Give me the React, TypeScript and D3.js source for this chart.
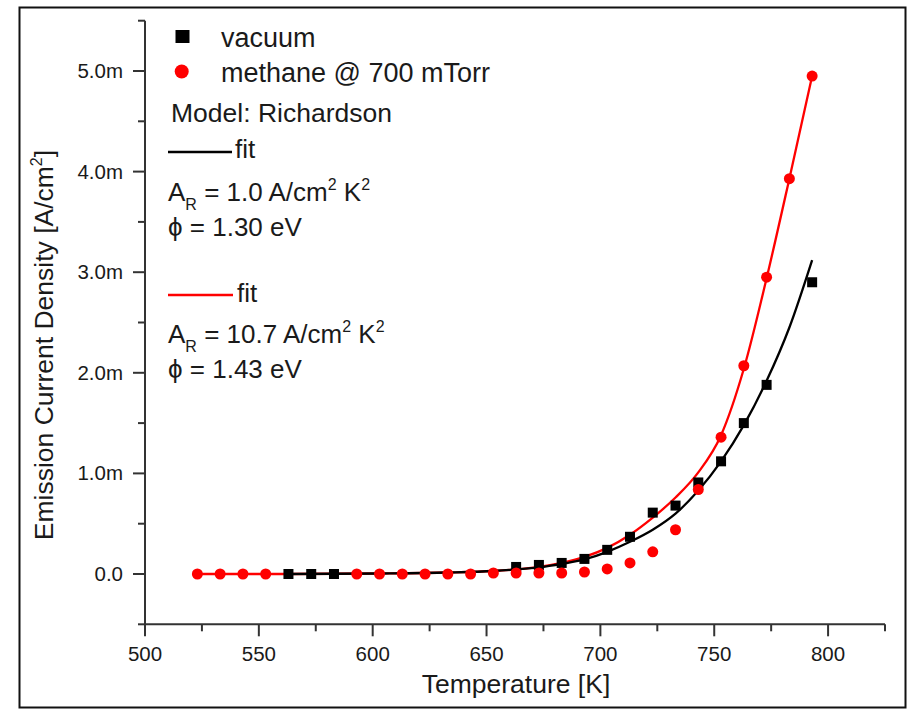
import React from "react";
import * as d3 from "d3";

// Temperatures [K]
const vacuumTemps = [563, 573, 583, 663, 673, 683, 693, 703, 713, 723, 733, 743, 753, 763, 773, 793];
// Emission current density [mA/cm^2]
const vacuumValues = [0, 0, 0, 0.07, 0.09, 0.11, 0.15, 0.24, 0.37, 0.61, 0.68, 0.91, 1.12, 1.5, 1.88, 2.9];

const methaneTemps = [523, 533, 543, 553, 593, 603, 613, 623, 633, 643, 653, 663, 673, 683, 693, 703, 713, 723, 733, 743, 753, 763, 773, 783, 793];
const methaneValues = [0, 0, 0, 0, 0, 0, 0, 0, 0, 0, 0.01, 0.01, 0.01, 0.01, 0.02, 0.05, 0.11, 0.22, 0.44, 0.84, 1.36, 2.07, 2.95, 3.93, 4.95];

// Fit curves
const vacuumFitTemps = [563, 603, 633, 653, 663, 673, 683, 693, 703, 713, 723, 733, 743, 753, 763, 773, 783, 793];
const vacuumFitValues = [0, 0.005, 0.015, 0.03, 0.045, 0.065, 0.1, 0.145, 0.22, 0.32, 0.44, 0.6, 0.83, 1.12, 1.48, 1.92, 2.45, 3.12];

const methaneFitTemps = [523, 563, 603, 633, 653, 663, 673, 683, 693, 703, 713, 723, 733, 743, 753, 763, 773, 783, 793];
const methaneFitValues = [0, 0, 0.005, 0.015, 0.03, 0.045, 0.07, 0.11, 0.17, 0.26, 0.39, 0.56, 0.76, 1.01, 1.38, 2.04, 2.94, 3.93, 4.95];

const xMajorTicks = [500, 550, 600, 650, 700, 750, 800];
const xMinorTicks = [525, 575, 625, 675, 725, 775, 825];
const yMajorTicks = [0, 1, 2, 3, 4, 5];
const yMinorTicks = [-0.5, 0.5, 1.5, 2.5, 3.5, 4.5, 5.5];

const FONT = "'Liberation Sans', Arial, Helvetica, sans-serif";
const INK = "#1a1a1a";

export default function App() {
  const W = 907;
  const H = 710;
  const x = d3.scaleLinear().domain([500, 825]).range([145, 885]);
  const y = d3.scaleLinear().domain([-0.5, 5.5]).range([624.3, 20.7]);

  const line = d3
    .line<[number, number]>()
    .x((d) => x(d[0]))
    .y((d) => y(d[1]))
    .curve(d3.curveMonotoneX);

  const vacFit = vacuumFitTemps.map((t, i) => [t, vacuumFitValues[i]] as [number, number]);
  const metFit = methaneFitTemps.map((t, i) => [t, methaneFitValues[i]] as [number, number]);

  const fmtY = (v: number) => (v === 0 ? "0.0" : v.toFixed(1) + "m");
  const x0 = x(500);
  const yb = y(-0.5);

  return (
    <div style={{ position: "absolute", left: 0, top: 0 }}>
      <svg width={W} height={H} style={{ display: "block", background: "#fff" }}>
        <rect x={0} y={0} width={W} height={H} fill="#fff" />
        <rect x={19.5} y={7.5} width={886} height={700} fill="none" stroke="#111" strokeWidth={2} />

        {/* axes */}
        <line x1={x0} x2={x0} y1={y(5.5)} y2={yb} stroke="#333" strokeWidth={2} />
        <line x1={x0} x2={x(825)} y1={yb} y2={yb} stroke="#333" strokeWidth={2} />
        {yMajorTicks.map((v) => (
          <g key={"ym" + v}>
            <line x1={x0 - 12} x2={x0} y1={y(v)} y2={y(v)} stroke="#333" strokeWidth={2} />
            <text x={x0 - 22} y={y(v) + 7} textAnchor="end" fontFamily={FONT} fontSize={20.5} fill={INK}>
              {fmtY(v)}
            </text>
          </g>
        ))}
        {yMinorTicks.map((v) => (
          <line key={"yn" + v} x1={x0 - 7} x2={x0} y1={y(v)} y2={y(v)} stroke="#333" strokeWidth={2} />
        ))}
        {xMajorTicks.map((v) => (
          <g key={"xm" + v}>
            <line x1={x(v)} x2={x(v)} y1={yb} y2={yb + 12} stroke="#333" strokeWidth={2} />
            <text x={x(v)} y={661} textAnchor="middle" fontFamily={FONT} fontSize={20.5} fill={INK}>
              {v}
            </text>
          </g>
        ))}
        {xMinorTicks.map((v) => (
          <line key={"xn" + v} x1={x(v)} x2={x(v)} y1={yb} y2={yb + 7} stroke="#333" strokeWidth={2} />
        ))}

        {/* axis titles */}
        <text x={516} y={693} textAnchor="middle" fontFamily={FONT} fontSize={26.5} fill={INK}>
          Temperature [K]
        </text>
        <text
          transform={`translate(53,345) rotate(-90)`}
          textAnchor="middle"
          fontFamily={FONT}
          fontSize={26.5}
          fill={INK}
        >
          Emission Current Density [A/cm
          <tspan fontSize={16} dy={-11}>2</tspan>
          <tspan dy={11}>]</tspan>
        </text>

        {/* fits */}
        <path d={line(metFit) || ""} fill="none" stroke="#ff0000" strokeWidth={2.3} />
        <path d={line(vacFit) || ""} fill="none" stroke="#000" strokeWidth={2.3} />

        {/* data */}
        {vacuumTemps.map((t, i) => (
          <rect key={"v" + t} x={x(t) - 5} y={y(vacuumValues[i]) - 5} width={10} height={10} fill="#000" />
        ))}
        {methaneTemps.map((t, i) => (
          <circle key={"m" + t} cx={x(t)} cy={y(methaneValues[i])} r={5.5} fill="#ff0000" />
        ))}

        {/* legend */}
        <rect x={175.5} y={30} width={14} height={13} fill="#000" />
        <text x={221} y={47} fontFamily={FONT} fontSize={27} fill={INK}>vacuum</text>
        <circle cx={181.7} cy={71.5} r={7} fill="#ff0000" />
        <text x={221} y={82} fontFamily={FONT} fontSize={27} fill={INK}>methane @ 700 mTorr</text>
        <text x={171} y={122} fontFamily={FONT} fontSize={26.5} fill={INK}>Model: Richardson</text>

        <line x1={168} x2={232} y1={152} y2={152} stroke="#000" strokeWidth={2.3} />
        <text x={235} y={158} fontFamily={FONT} fontSize={26} fill={INK}>fit</text>
        <text x={168} y={201} fontFamily={FONT} fontSize={26} fill={INK}>
          A<tspan fontSize={16} dy={9}>R</tspan>
          <tspan dy={-9}> = 1.0 A/cm</tspan>
          <tspan fontSize={16} dy={-11}>2</tspan>
          <tspan dy={11}> K</tspan>
          <tspan fontSize={16} dy={-11}>2</tspan>
        </text>
        <text x={168} y={236} fontFamily={FONT} fontSize={26} fill={INK}>ϕ = 1.30 eV</text>

        <line x1={168} x2={233} y1={295} y2={295} stroke="#ff0000" strokeWidth={2.3} />
        <text x={237} y={302} fontFamily={FONT} fontSize={26} fill={INK}>fit</text>
        <text x={168} y={343} fontFamily={FONT} fontSize={26} fill={INK}>
          A<tspan fontSize={16} dy={9}>R</tspan>
          <tspan dy={-9}> = 10.7 A/cm</tspan>
          <tspan fontSize={16} dy={-11}>2</tspan>
          <tspan dy={11}> K</tspan>
          <tspan fontSize={16} dy={-11}>2</tspan>
        </text>
        <text x={168} y={378} fontFamily={FONT} fontSize={26} fill={INK}>ϕ = 1.43 eV</text>
      </svg>
    </div>
  );
}
